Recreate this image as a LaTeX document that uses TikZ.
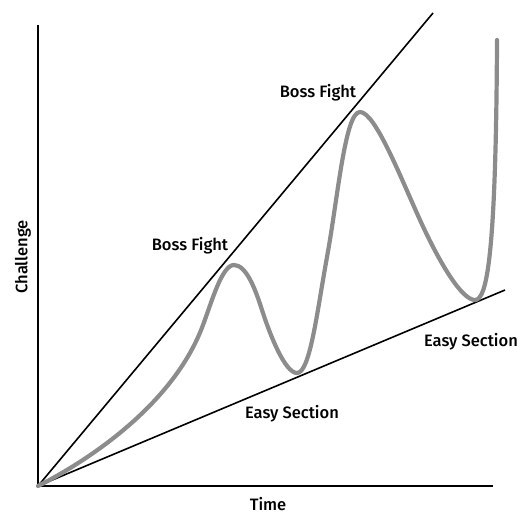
\documentclass[tikz,border=0pt]{standalone}
\usepackage{fontspec}
\setmainfont{Fira Sans Medium}
\begin{document}
\begin{tikzpicture}[x=1pt,y=1pt,
  axis/.style={line width=2pt, black},
  guide/.style={line width=1.6pt, black},
  flow/.style={line width=4.2pt, color=curvegray, line cap=round, line join=round},
  lbl/.style={font=\fontsize{16.5}{18}\selectfont, inner sep=0pt}]
\definecolor{curvegray}{HTML}{8C8C8C}
\useasboundingbox (0,0) rectangle (529,515);

% origin and axis ends
\coordinate (O) at (38,29);
\coordinate (ytop) at (38,490);
\coordinate (xend) at (493,29);
% guide line ends
\coordinate (hard) at (433,502);
\coordinate (easy) at (505,225);

% axes
\draw[axis] (ytop) -- (O) -- (xend);

% difficulty bounds
\draw[guide] (O) -- (hard);
\draw[guide] (O) -- (easy);

% challenge curve: peaks touch the upper bound, troughs the lower one
\coordinate (p1) at (234,250);
\coordinate (t1) at (297,142);
\coordinate (p2) at (360,403);
\coordinate (t2) at (475,215);
\coordinate (fin) at (497,475);
\draw[flow] (O)
  .. controls (95,58) and (175,114) .. (203,190)
  .. controls (212,214) and (222,250) .. (p1)
  .. controls (246,250) and (255,227) .. (262,205)
  .. controls (270,180) and (285,142) .. (t1)
  .. controls (310,142) and (317,203) .. (327,258)
  .. controls (338,318) and (345,403) .. (p2)
  .. controls (375,403) and (400,339) .. (420,295)
  .. controls (440,251) and (462,215) .. (t2)
  .. controls (487,215) and (496,260) .. (fin);

% labels
\node[lbl] (boss2) at (318,422) {Boss Fight};
\node[lbl] (boss1) at (190,269) {Boss Fight};
\node[lbl] (easy2) at (471,173) {Easy Section};
\node[lbl] (easy1) at (292,101) {Easy Section};
\node[lbl, anchor=base] (time) at (268,4.5) {Time};
\node[lbl, rotate=90] (chal) at (23,258) {Challenge};
\end{tikzpicture}
\end{document}
